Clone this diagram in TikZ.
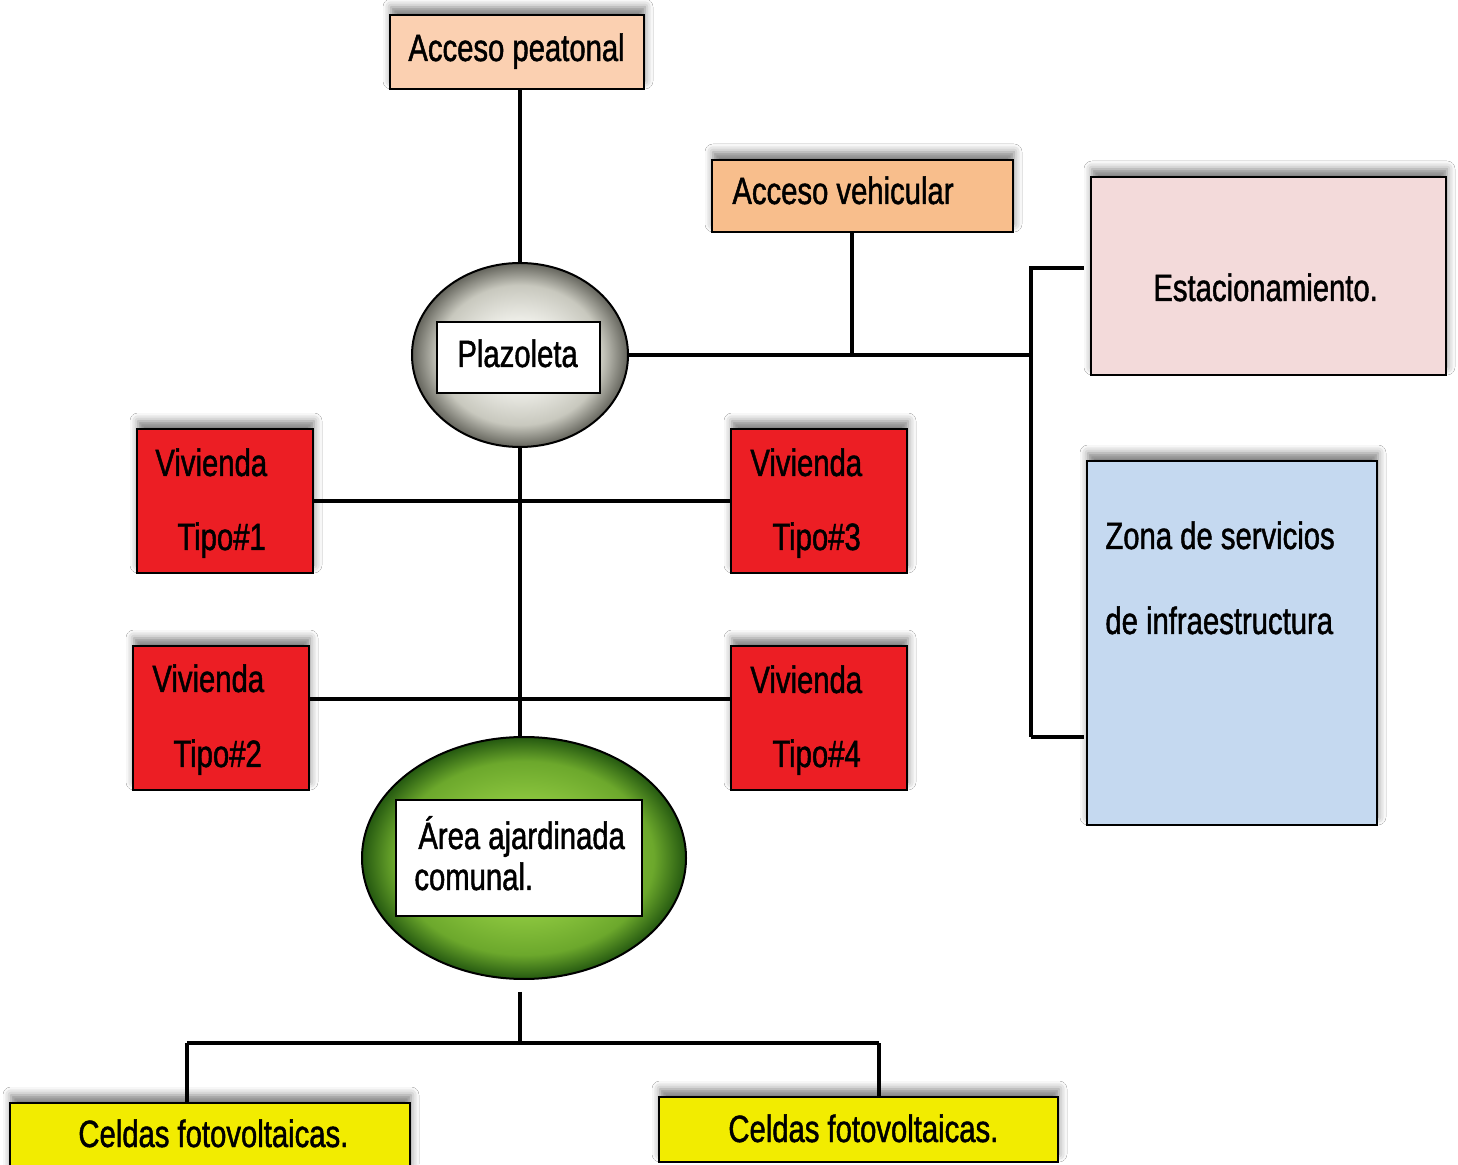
\documentclass[tikz,border=0pt]{standalone}
\usepackage{fontspec}
\setmainfont{Liberation Sans}[FakeStretch=0.77,FakeBold=1.2]
\usetikzlibrary{shapes.geometric,shadows.blur,fit}
\definecolor{peach}{RGB}{251,208,177}
\definecolor{orangeb}{RGB}{248,190,140}
\definecolor{pinkb}{RGB}{243,218,218}
\definecolor{blueb}{RGB}{197,217,240}
\definecolor{redb}{RGB}{236,30,36}
\definecolor{yellowb}{RGB}{242,236,0}
\definecolor{pzA}{RGB}{236,236,230}
\definecolor{pzB}{RGB}{200,200,190}
\definecolor{pzC}{RGB}{100,100,92}
\definecolor{gA}{RGB}{142,200,64}
\definecolor{gB}{RGB}{108,168,44}
\definecolor{gC}{RGB}{36,88,16}
\pgfdeclareradialshading{plazshade}{\pgfpoint{0bp}{0bp}}{color(0bp)=(pzA); color(10bp)=(pzA); color(19bp)=(pzB); color(25bp)=(pzC); color(50bp)=(pzC)}
\pgfdeclareradialshading{jardshade}{\pgfpoint{0bp}{0bp}}{color(0bp)=(gA); color(11bp)=(gA); color(20bp)=(gB); color(25bp)=(gC); color(50bp)=(gC)}
\begin{document}
\begin{tikzpicture}[x=0.5pt,y=-0.5pt,
  font=\fontsize{19}{23}\selectfont,
  box/.style={draw=black, line width=1.2pt, inner sep=0pt,
    blur shadow={shadow xshift=0.5pt, shadow yshift=4pt, shadow blur radius=4pt, shadow opacity=50}},
  inbox/.style={draw=black, line width=1.2pt, fill=white, inner sep=0pt},
  lbl/.style={inner sep=0pt, anchor=base west, text=black},
  conn/.style={draw=black, line width=2.2pt}]
\useasboundingbox[fill=white] (0,0) rectangle (1458,1165);

% boxes
\node[box, fill=peach, fit={(390,15) (644,89)}] (peat) {};
\node[box, fill=orangeb, fit={(712,160) (1013,232)}] (veh) {};
\node[box, fill=pinkb, fit={(1091,177) (1446,375)}] (est) {};
\node[box, fill=blueb, fit={(1087,461) (1377,825)}] (zona) {};
\node[box, fill=redb, fit={(137,429) (313,573)}] (v1) {};
\node[box, fill=redb, fit={(731,429) (907,573)}] (v3) {};
\node[box, fill=redb, fit={(133,646) (309,790)}] (v2) {};
\node[box, fill=redb, fit={(731,646) (907,790)}] (v4) {};
\node[box, fill=yellowb, fit={(10,1103) (410,1172)}] (cel1) {};
\node[box, fill=yellowb, fit={(659,1097) (1058,1162)}] (cel2) {};

% ellipses
\node[ellipse, draw=black, line width=1pt, inner sep=0pt, minimum width=108pt, minimum height=92pt,
  shade, shading=plazshade] (plaz) at (520,355) {};
\node[inbox, fit={(437,322) (600,393)}] (plazin) {};
\node[ellipse, draw=black, line width=1pt, inner sep=0pt, minimum width=162pt, minimum height=121pt,
  shade, shading=jardshade] (jard) at (524,858) {};
\node[inbox, fit={(396,800) (642,916)}] (jardin) {};

% labels
\node[lbl] (tpeat) at (408,61) {Acceso peatonal};
\node[lbl] (tveh) at (732,204) {Acceso vehicular};
\node[lbl] (tplaz) at (457,367) {Plazoleta};
\node[lbl] (test) at (1153,301) {Estacionamiento.};
\node[lbl] (tzona1) at (1105,549) {Zona de servicios};
\node[lbl] (tzona2) at (1105,634) {de infraestructura};
\node[lbl] (tv1a) at (155,476) {Vivienda};
\node[lbl] (tv1b) at (177,550) {Tipo\#1};
\node[lbl] (tv3a) at (750,476) {Vivienda};
\node[lbl] (tv3b) at (772,550) {Tipo\#3};
\node[lbl] (tv2a) at (152,692) {Vivienda};
\node[lbl] (tv2b) at (173,767) {Tipo\#2};
\node[lbl] (tv4a) at (750,693) {Vivienda};
\node[lbl] (tv4b) at (772,767) {Tipo\#4};
\node[lbl] (tjard1) at (418,849) {Área ajardinada};
\node[lbl] (tjard2) at (414,890) {comunal.};
\node[lbl] (tcel1) at (78,1147) {Celdas fotovoltaicas.};
\node[lbl] (tcel2) at (728,1142) {Celdas fotovoltaicas.};

% junction coordinates
\coordinate (J1) at (852,355);
\coordinate (J2) at (1031,355);
\coordinate (Ja) at (1031,268);
\coordinate (Jb) at (1031,737);
\coordinate (L2) at (520,699);
\coordinate (B0) at (520,992);
\coordinate (B1) at (520,1043);
\coordinate (BL) at (187,1043);
\coordinate (BR) at (879,1043);

% connectors
\draw[conn] (plaz.north |- peat.south) -- (plaz.north);
\draw[conn] (J1 |- veh.south) -- (J1);
\draw[conn] (plaz.east) -- (J2);
\draw[conn, shorten >=3pt] (Jb) -- (Ja) -- (Ja -| est.west);
\draw[conn, shorten >=1pt] (Jb) -- (Jb -| zona.west);
\draw[conn] (v1.east) -- (v3.west);
\draw[conn] (L2 -| v2.east) -- (L2 -| v4.west);
\draw[conn] (plaz.south) -- (plaz.south |- jard.north);
\draw[conn] (B0) -- (B1);
\draw[conn] (BL) -- (BR);
\draw[conn] (BL) -- (BL |- cel1.north);
\draw[conn] (BR) -- (BR |- cel2.north);
\end{tikzpicture}
\end{document}
